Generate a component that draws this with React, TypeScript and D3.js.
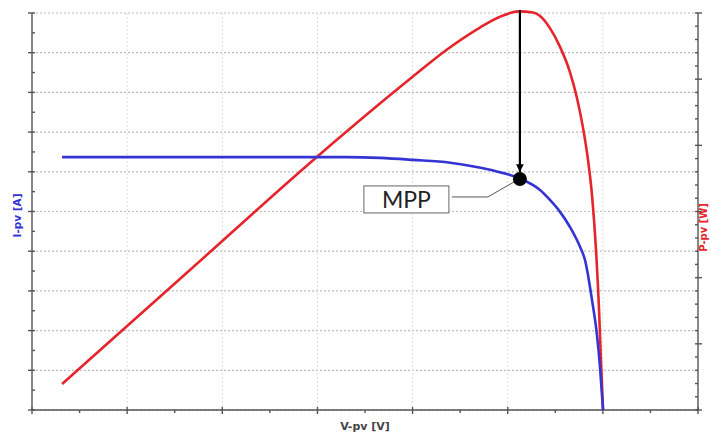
import * as d3 from 'd3';
import { useEffect, useRef } from 'react';

// I-V curve (voltage in V, current in A)
const ivVoltage = [1.58, 15.03, 16.55, 18.29, 20.02, 21.97, 24.07, 25.59, 26.7, 27.22, 27.75, 28.27, 28.8, 29.06, 29.43, 29.69, 29.85, 30.01];
const ivCurrent = [6.37, 6.37, 6.37, 6.35, 6.3, 6.23, 6.05, 5.84, 5.54, 5.29, 4.99, 4.61, 4.11, 3.78, 2.77, 1.89, 1.08, 0];

// P-V curve (voltage in V, power in W)
const pvVoltage = [1.58, 8.3, 15.03, 20.02, 21.81, 23.54, 24.59, 25.59, 26.33, 26.7, 27.22, 27.75, 28.27, 28.64, 28.96, 29.22, 29.43, 29.64, 29.8, 29.9, 30.01];
const pvPower = [9.8, 52.9, 96.0, 126.0, 136.2, 144.5, 148.6, 150.6, 150.2, 148.9, 144.3, 137.2, 127.7, 117.9, 106.5, 94.5, 81.2, 60.5, 37.8, 18.9, 0];

// maximum power point
const mppVoltage = 25.64;
const mppCurrent = 5.82;
const mppPower = 150.7;

const voltageTicks = d3.range(0, 35.01, 5);
const currentTicks = d3.range(0, 10.01, 1);
const powerTicks = d3.range(0, 150.01, 25);

const BLUE = '#3434d4';
const RED = '#e5252b';
const AXIS = '#555';

export default function App() {
    const svgRef = useRef<SVGSVGElement | null>(null);

    useEffect(() => {
        if (!svgRef.current) return;
        const width = 711;
        const height = 432;
        const margin = { top: 13, right: 13, bottom: 22, left: 32 };

        const svg = d3.select(svgRef.current);
        svg.selectAll('*').remove();

        const x = d3.scaleLinear().domain([0, 35]).range([margin.left, width - margin.right]);
        const yI = d3.scaleLinear().domain([0, 10]).range([height - margin.bottom, margin.top]);
        const yP = d3.scaleLinear().domain([0, 150]).range([height - margin.bottom, margin.top]);

        const x0 = x(0), x1 = x(35), yb = yI(0), yt = yI(10);

        // grid
        const grid = svg.append('g');
        grid.selectAll('line.h')
            .data(currentTicks)
            .join('line')
            .attr('x1', x0).attr('x2', x1)
            .attr('y1', d => yI(d)).attr('y2', d => yI(d))
            .attr('stroke', '#bdbdbd').attr('stroke-width', 1.2)
            .attr('stroke-dasharray', '2,2');
        grid.selectAll('line.v')
            .data(voltageTicks.slice(1, -1))
            .join('line')
            .attr('x1', d => x(d)).attr('x2', d => x(d))
            .attr('y1', yt).attr('y2', yb)
            .attr('stroke', '#dcdcdc').attr('stroke-width', 1)
            .attr('stroke-dasharray', '2,2');

        // axes
        const axes = svg.append('g').attr('stroke', AXIS).attr('stroke-width', 1.4);
        axes.append('line').attr('x1', x0).attr('x2', x0).attr('y1', yt).attr('y2', yb);
        axes.append('line').attr('x1', x1).attr('x2', x1).attr('y1', yt).attr('y2', yb);
        axes.append('line').attr('x1', x0).attr('x2', x1).attr('y1', yb).attr('y2', yb);

        // left ticks
        axes.selectAll('line.lmaj').data(currentTicks).join('line')
            .attr('x1', x0 - 4).attr('x2', x0 + 3)
            .attr('y1', d => yI(d)).attr('y2', d => yI(d));
        axes.selectAll('line.lmin').data(d3.range(0.5, 10, 1)).join('line')
            .attr('x1', x0).attr('x2', x0 + 3)
            .attr('y1', d => yI(d)).attr('y2', d => yI(d));

        // right ticks
        axes.selectAll('line.rmaj').data(powerTicks).join('line')
            .attr('x1', x1 - 3).attr('x2', x1 + 4)
            .attr('y1', d => yP(d)).attr('y2', d => yP(d));
        axes.selectAll('line.rmin').data(d3.range(0, 150, 5).filter(d => d % 25 !== 0)).join('line')
            .attr('x1', x1 - 3).attr('x2', x1)
            .attr('y1', d => yP(d)).attr('y2', d => yP(d));

        // bottom ticks
        axes.selectAll('line.bmaj').data(voltageTicks).join('line')
            .attr('x1', d => x(d)).attr('x2', d => x(d))
            .attr('y1', yb - 3).attr('y2', yb + 4);
        axes.selectAll('line.bmin').data(d3.range(2.5, 35, 5)).join('line')
            .attr('x1', d => x(d)).attr('x2', d => x(d))
            .attr('y1', yb).attr('y2', yb + 3);

        // curves
        const ivLine = d3.line<number>()
            .x((_, i) => x(ivVoltage[i]))
            .y(d => yI(d))
            .curve(d3.curveMonotoneX);
        const pvLine = d3.line<number>()
            .x((_, i) => x(pvVoltage[i]))
            .y(d => yP(d))
            .curve(d3.curveMonotoneX);

        svg.append('path')
            .datum(pvPower)
            .attr('fill', 'none')
            .attr('stroke', RED)
            .attr('stroke-width', 2.6)
            .attr('d', pvLine);

        svg.append('path')
            .datum(ivCurrent)
            .attr('fill', 'none')
            .attr('stroke', BLUE)
            .attr('stroke-width', 2.6)
            .attr('d', ivLine);

        // MPP annotation
        const mx = x(mppVoltage);
        const my = yI(mppCurrent);
        const defs = svg.append('defs');
        defs.append('marker')
            .attr('id', 'arrow')
            .attr('viewBox', '0 0 10 10')
            .attr('refX', 10).attr('refY', 5)
            .attr('markerWidth', 3.5).attr('markerHeight', 3.5)
            .attr('orient', 'auto')
            .append('path')
            .attr('d', 'M0,0 L10,5 L0,10 z')
            .attr('fill', '#000');

        svg.append('line')
            .attr('x1', mx).attr('x2', mx)
            .attr('y1', yP(mppPower) - 1).attr('y2', my - 7)
            .attr('stroke', '#000').attr('stroke-width', 2.2)
            .attr('marker-end', 'url(#arrow)');

        svg.append('polyline')
            .attr('points', `${mx - 6},${my + 3} ${mx - 32},${my + 18} ${mx - 68},${my + 18}`)
            .attr('fill', 'none')
            .attr('stroke', '#555')
            .attr('stroke-width', 1);

        svg.append('circle')
            .attr('cx', mx).attr('cy', my).attr('r', 7)
            .attr('fill', '#000');

        const box = svg.append('g').attr('transform', `translate(${mx - 156},${my + 7})`);
        box.append('rect')
            .attr('width', 85).attr('height', 27)
            .attr('fill', '#fff')
            .attr('stroke', '#666').attr('stroke-width', 1);
        box.append('text')
            .attr('x', 42.5).attr('y', 22)
            .attr('text-anchor', 'middle')
            .attr('font-family', 'Lato, "Open Sans", sans-serif')
            .attr('font-size', 23)
            .attr('fill', '#222')
            .text('MPP');

        // axis titles
        svg.append('text')
            .attr('transform', `translate(21,${yI(4.9)}) rotate(-90)`)
            .attr('text-anchor', 'middle')
            .attr('font-family', '"DejaVu Sans", sans-serif')
            .attr('font-weight', 'bold')
            .attr('font-size', 10.5)
            .attr('fill', BLUE)
            .text('I-pv [A]');

        svg.append('text')
            .attr('transform', `translate(707,${yI(4.6)}) rotate(-90)`)
            .attr('text-anchor', 'middle')
            .attr('font-family', '"DejaVu Sans", sans-serif')
            .attr('font-weight', 'bold')
            .attr('font-size', 10)
            .attr('fill', RED)
            .text('P-pv [W]');

        svg.append('text')
            .attr('x', x(17.5)).attr('y', 430)
            .attr('text-anchor', 'middle')
            .attr('font-family', '"DejaVu Sans", sans-serif')
            .attr('font-weight', 'bold')
            .attr('font-size', 11)
            .attr('fill', '#444')
            .text('V-pv [V]');
    }, []);

    return (
        <div style={{ position: 'absolute', left: 0, top: 0, width: 711, height: 432, background: '#fff' }}>
            <svg ref={svgRef} width={711} height={432} style={{ display: 'block' }} />
        </div>
    );
}
